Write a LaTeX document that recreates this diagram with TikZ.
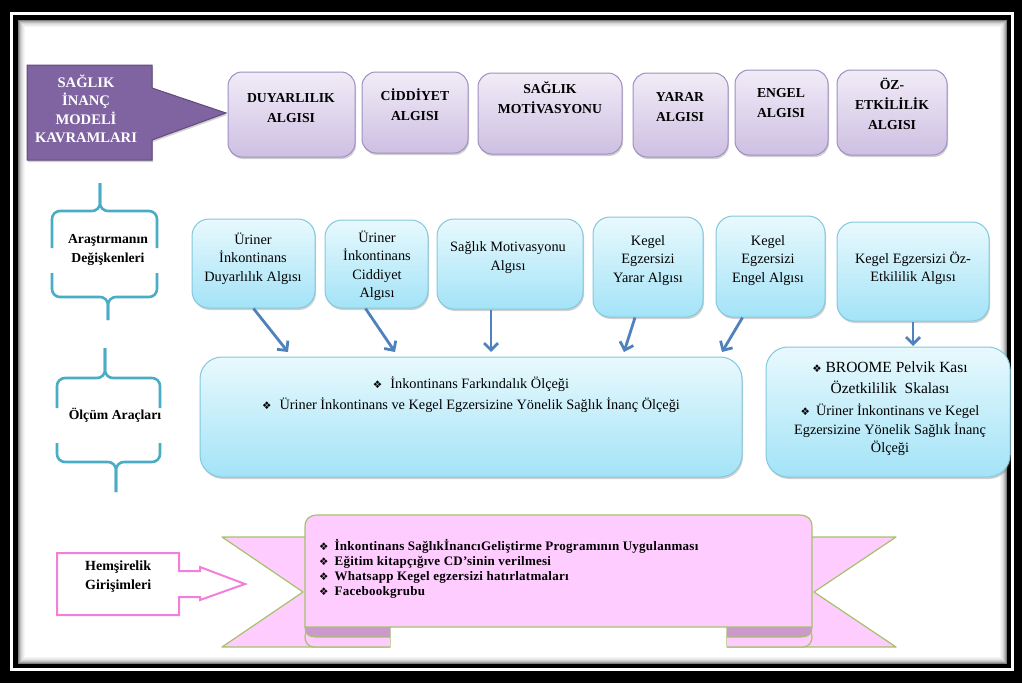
\documentclass[tikz,border=0pt]{standalone}
\usepackage{fontspec}
\setmainfont{Liberation Serif}
\newfontfamily\dingfont{DejaVu Sans}
\usetikzlibrary{arrows.meta,shadows,positioning}

\definecolor{conceptpurple}{HTML}{8064A2}
\definecolor{conceptedge}{HTML}{5F4B7A}
\definecolor{lavtop}{HTML}{F1ECF7}
\definecolor{lavbot}{HTML}{CDBFE2}
\definecolor{lavedge}{HTML}{A08FC2}
\definecolor{skytop}{HTML}{E8F9FD}
\definecolor{skybot}{HTML}{A3E3F7}
\definecolor{skyedge}{HTML}{84C8DD}
\definecolor{arrowblue}{HTML}{4F81BD}
\definecolor{bracecol}{HTML}{4BACC6}
\definecolor{nursepink}{HTML}{F27FDA}
\definecolor{ribbonpink}{HTML}{FFCCFF}
\definecolor{ribbonfold}{HTML}{CC99CC}
\definecolor{ribbonedge}{HTML}{A5C26A}

\newcommand{\bul}{{\dingfont\fontsize{10.5}{10}\selectfont ❖}}

\tikzset{
  softshadow/.style={drop shadow={shadow xshift=1pt,shadow yshift=-2pt,opacity=.3,fill=black!60}},
  conceptbox/.style={draw=lavedge, line width=1pt, rounded corners=14pt, top color=lavtop, bottom color=lavbot, inner sep=0pt, softshadow},
  skybox/.style={draw=skyedge, line width=1pt, rounded corners=17pt, top color=skytop, bottom color=skybot, inner sep=0pt, softshadow},
  toptext/.style={align=center, inner sep=0pt, font=\bfseries\fontsize{13.7}{20}\selectfont},
  skytext/.style={align=center, inner sep=0pt, font=\fontsize{14.3}{18.5}\selectfont},
  bracetext/.style={align=center, inner sep=0pt, font=\bfseries\fontsize{13.7}{19}\selectfont},
  brace/.style={draw=bracecol, line width=2.6pt, rounded corners=8pt},
  link/.style={draw=arrowblue, line width=2.8pt, -{Straight Barb[length=7pt,width=14pt]}},
  ribbon/.style={fill=ribbonpink, draw=ribbonedge, line width=1.2pt, line join=round}
}

\begin{document}
\begin{tikzpicture}[x=1pt,y=-1pt]
\useasboundingbox (0,0) rectangle (1022,683);

\fill[black] (0,0) rectangle (1022,683);
\fill[white] (10,12) rectangle (1014,671);
\fill[black] (13,15) rectangle (1011,668);
\fill[white] (18,20) rectangle (1007,664);
\foreach \d/\o in {0/0.5,1/0.35,2/0.25,3/0.17,4/0.11,5/0.07,6/0.04}
  \draw[black, opacity=\o, line width=1pt] (18.5+\d,20.5+\d) rectangle (1006.5-\d,663.5-\d);

\draw[fill=conceptpurple, draw=conceptedge, line width=1pt, softshadow] (27,65) -- (152,65) -- (152,88) -- (226,113) -- (152,140) -- (152,160) -- (27,160) -- cycle;
\node[align=center, inner sep=0pt, text=white, font=\bfseries\fontsize{14.6}{18.5}\selectfont] at (86,109) (model) {SAĞLIK\\İNANÇ\\MODELİ\\KAVRAMLARI};

\node[conceptbox, minimum width=127pt, minimum height=85pt] at (291.5,114.5) (duyarlilik) {};
\node[conceptbox, minimum width=106pt, minimum height=81pt] at (415,112.5) (ciddiyet) {};
\node[conceptbox, minimum width=144pt, minimum height=81pt] at (550,113.5) (motivasyon) {};
\node[conceptbox, minimum width=95pt, minimum height=84pt] at (680.5,115) (yarar) {};
\node[conceptbox, minimum width=93pt, minimum height=85pt] at (781.5,112.5) (engel) {};
\node[conceptbox, minimum width=110pt, minimum height=85pt] at (892,112.5) (ozetkililik) {};

\node[toptext] at (291,108) (duyarlilikt) {DUYARLILIK\\ALGISI};
\node[toptext] at (415,105) (ciddiyett) {CİDDİYET\\ALGISI};
\node[toptext] at (550,97.5) (motivasyont) {SAĞLIK\\MOTİVASYONU};
\node[toptext] at (680,107) (yarart) {YARAR\\ALGISI};
\node[toptext] at (781,103) (engelt) {ENGEL\\ALGISI};
\node[toptext] at (892,104) (ozetkililikt) {ÖZ-\\ETKİLİLİK\\ALGISI};

\draw[brace] (52,248) -- (52,211) -- (100,211) -- (100,183);
\draw[brace] (157,248) -- (157,211) -- (100,211) -- (100,183);
\draw[brace] (52,273) -- (52,297) -- (108,297) -- (108,320);
\draw[brace] (157,273) -- (157,297) -- (108,297) -- (108,320);
\node[bracetext] at (108,250) (degiskenler) {Araştırmanın\\Değişkenleri};

\draw[brace] (57,408) -- (57,378) -- (105,378) -- (105,348);
\draw[brace] (160,408) -- (160,378) -- (105,378) -- (105,348);
\draw[brace] (57,443) -- (57,462) -- (116,462) -- (116,492);
\draw[brace] (160,443) -- (160,462) -- (116,462) -- (116,492);
\node[bracetext] at (115,415) (araclar) {Ölçüm Araçları};

\node[skybox, minimum width=123pt, minimum height=89pt] at (253.5,263.5) (duyarlilikv) {};
\node[skybox, minimum width=103pt, minimum height=88pt] at (376.5,264) (ciddiyetv) {};
\node[skybox, minimum width=146pt, minimum height=90pt] at (510,264) (motivasyonv) {};
\node[skybox, minimum width=110pt, minimum height=100pt] at (648,267) (yararv) {};
\node[skybox, minimum width=109pt, minimum height=101pt] at (770.5,266.5) (engelv) {};
\node[skybox, minimum width=152pt, minimum height=99pt] at (913,271.5) (ozetkililikv) {};

\node[skytext] at (253,258.5) (duyarlilikvt) {Üriner\\İnkontinans\\Duyarlılık Algısı};
\node[skytext] at (377,265.5) (ciddiyetvt) {Üriner\\İnkontinans\\Ciddiyet\\Algısı};
\node[skytext] at (508,257.5) (motivasyonvt) {Sağlık Motivasyonu\\Algısı};
\node[skytext] at (648,260.5) (yararvt) {Kegel\\Egzersizi\\Yarar Algısı};
\node[skytext] at (768,260.5) (engelvt) {Kegel\\Egzersizi\\Engel Algısı};
\node[skytext] at (913,268) (ozetkililikvt) {Kegel Egzersizi Öz-\\Etkililik Algısı};

\node[skybox, rounded corners=22pt, minimum width=542pt, minimum height=120pt] at (471,417) (olcekler) {};
\node[skytext, font=\fontsize{14.3}{21}\selectfont] at (471,395) (olceklert) {\bul\hspace{8pt}İnkontinans Farkındalık Ölçeği\\\bul\hspace{8pt}Üriner İnkontinans ve Kegel Egzersizine Yönelik Sağlık İnanç Ölçeği};

\node[skybox, rounded corners=22pt, minimum width=244pt, minimum height=130pt] at (888,412) (broome) {};
\node[skytext, font=\fontsize{15.5}{21}\selectfont] at (890,378) (broomet) {\bul\ BROOME Pelvik Kası\\Özetkililik\ \ Skalası};
\node[skytext] at (890,430) (broomes) {\bul\hspace{6pt}Üriner İnkontinans ve Kegel\\Egzersizine Yönelik Sağlık İnanç\\Ölçeği};

\coordinate (e1) at (288,352);
\coordinate (e2) at (395,352);
\coordinate (e3) at (491,352);
\coordinate (e4) at (624,352);
\coordinate (e5) at (722,352);
\coordinate (e6) at (913,346);
\draw[link] (duyarlilikv.south) -- (e1);
\draw[link] ([xshift=-11pt]ciddiyetv.south) -- (e2);
\draw[link] ([xshift=-19pt]motivasyonv.south) -- (e3);
\draw[link] ([xshift=-13pt]yararv.south) -- (e4);
\draw[link] ([xshift=-28pt]engelv.south) -- (e5);
\draw[link] (ozetkililikv.south) -- (e6);

\draw[draw=nursepink, fill=white, line width=2pt, line join=miter] (57,553) -- (179,553) -- (179,571) -- (200,571) -- (200,567) -- (245,584) -- (200,600) -- (200,597) -- (179,597) -- (179,615) -- (57,615) -- cycle;
\node[anchor=west, align=left, inner sep=0pt, font=\bfseries\fontsize{14}{19}\selectfont] at (85,576.5) (girisimler) {Hemşirelik\\Girişimleri};

\filldraw[ribbon] (222,537) -- (390,537) -- (390,647) -- (222,647) -- (303,592) -- cycle;
\filldraw[ribbon] (896,537) -- (727,537) -- (727,647) -- (896,647) -- (814,592) -- cycle;
\filldraw[ribbon] (390,627) -- (314,627) .. controls (302,627) and (302,647) .. (314,647) -- (390,647);
\filldraw[ribbon, fill=ribbonfold] (390,627) -- (305,627) .. controls (305,634) and (309,637) .. (316,637) -- (390,637);
\filldraw[ribbon] (727,627) -- (803,627) .. controls (815,627) and (815,647) .. (803,647) -- (727,647);
\filldraw[ribbon, fill=ribbonfold] (727,627) -- (812,627) .. controls (812,634) and (808,637) .. (801,637) -- (727,637);
\filldraw[ribbon] (305,627) -- (305,527) .. controls (305,519) and (309,515) .. (318,515) -- (799,515) .. controls (808,515) and (812,519) .. (812,527) -- (812,627) -- cycle;
\node[anchor=west, align=left, inner sep=0pt, font=\bfseries\fontsize{13}{14.8}\selectfont\addfontfeature{LetterSpace=2}] at (319,569) (uygulamalar) {\bul\hspace{6pt}İnkontinans SağlıkİnancıGeliştirme Programının Uygulanması\\\bul\hspace{6pt}Eğitim kitapçığıve CD’sinin verilmesi\\\bul\hspace{6pt}Whatsapp Kegel egzersizi hatırlatmaları\\\bul\hspace{6pt}Facebookgrubu};

\end{tikzpicture}
\end{document}
